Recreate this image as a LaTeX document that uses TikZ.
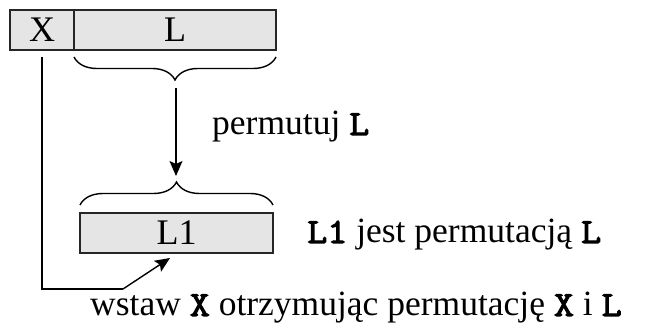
\documentclass[tikz,border=0pt]{standalone}
\usepackage{fontspec}
\setmainfont{Liberation Serif}
\newfontfamily\courb{Latin Modern Mono}[FakeBold=3,FakeStretch=1.1]
\newcommand{\cb}[1]{{\courb #1}}
\usetikzlibrary{decorations.pathreplacing,arrows.meta}
\begin{document}
\begin{tikzpicture}[x=1pt,y=-1pt,
  cell/.style={draw=black!85,fill=black!10,line width=1.5pt,minimum height=40pt,inner sep=0pt,
    font=\fontsize{36}{42}\selectfont},
  lbl/.style={anchor=base west,inner sep=0pt,font=\fontsize{35.5}{42}\selectfont},
  brc/.style={decorate,decoration={brace,amplitude=23pt},line width=1.4pt},
  conn/.style={line width=1.4pt,-{Stealth[length=15pt,width=13pt,inset=3pt]}},
  line/.style={line width=1.4pt}]
\useasboundingbox (0,0) rectangle (656,328);
\node[cell,minimum width=64pt] (X) at (42,30) {X};
\node[cell,minimum width=202pt] (L) at (175,30) {L};
\node[cell,minimum width=193pt] (L1) at (176.5,233) {L1};
\coordinate (b1) at (74,57);
\coordinate (b2) at (276,57);
\draw[brc] (b2) -- (b1);
\coordinate (c1) at (80,205);
\coordinate (c2) at (273,205);
\draw[brc] (c1) -- (c2);
\coordinate (atop) at (176,88);
\coordinate (abot) at (176,176);
\draw[conn] (atop) -- (abot);
\coordinate (xs) at (42,57);
\coordinate (kn) at (123,289);
\coordinate (tip) at (170,258);
\draw[line] (xs) |- (kn);
\draw[conn] (kn) -- (tip);
\node[lbl] (p) at (212,135) {permutuj \cb{L}};
\node[lbl] (j) at (307,243) {\cb{L1} jest permutacją \cb{L}};
\node[lbl] (w) at (90,316) {wstaw \cb{X} otrzymując permutację \cb{X} i \cb{L}};
\end{tikzpicture}
\end{document}
